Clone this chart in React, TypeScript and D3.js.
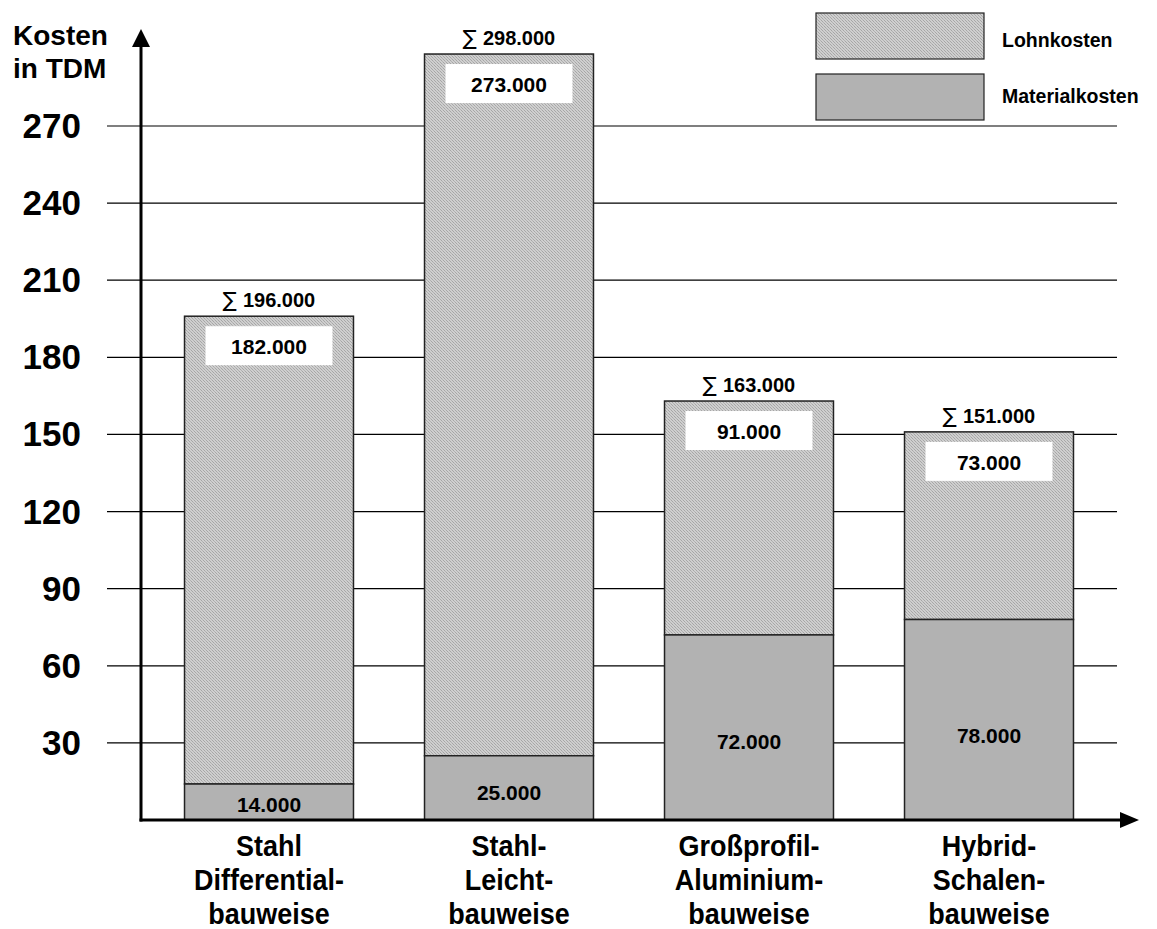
import React from "react";
import * as d3 from "d3";

// Cost comparison of four construction methods (values in TDM)
const categories: string[][] = [
  ["Stahl", "Differential-", "bauweise"],
  ["Stahl-", "Leicht-", "bauweise"],
  ["Großprofil-", "Aluminium-", "bauweise"],
  ["Hybrid-", "Schalen-", "bauweise"],
];
const materialkosten = [14, 25, 72, 78];
const lohnkosten = [182, 273, 91, 73];
const yTicks = [30, 60, 90, 120, 150, 180, 210, 240, 270];
const legendLabels = ["Lohnkosten", "Materialkosten"];

const W = 1157;
const H = 929;
const FONT = "'Liberation Sans', Arial, Helvetica, sans-serif";

const fmt = (v: number) => d3.format(".3f")(v).replace(/,/g, "");

export default function App() {
  const x = d3
    .scaleBand<number>()
    .domain(d3.range(categories.length))
    .range([149, 1109])
    .paddingInner(0.296)
    .paddingOuter(0.148);
  const y = d3.scaleLinear().domain([0, 270]).range([820, 126]);
  const bw = x.bandwidth();
  const axisX = 141;
  const axisY = y(0);

  return (
    <svg
      width={W}
      height={H}
      viewBox={`0 0 ${W} ${H}`}
      style={{ display: "block", position: "absolute", left: 0, top: 0, background: "#fff" }}
      fontFamily={FONT}
    >
      <defs>
        <pattern id="lohn" width="3" height="3" patternUnits="userSpaceOnUse">
          <rect width="3" height="3" fill="#cfcfcf" />
          <rect x="0" y="0" width="1" height="1" fill="#a6a6a6" />
          <rect x="1" y="1" width="1" height="1" fill="#b2b2b2" />
          <rect x="2" y="2" width="1" height="1" fill="#a6a6a6" />
        </pattern>
      </defs>

      {/* horizontal grid lines */}
      {yTicks.map((t) => (
        <line key={t} x1={107} x2={1117} y1={y(t)} y2={y(t)} stroke="#000" strokeWidth={1.2} />
      ))}

      {/* y tick labels */}
      {yTicks.map((t) => (
        <text
          key={"l" + t}
          x={81}
          y={y(t) + 12}
          textAnchor="end"
          fontSize={35}
          fontWeight="bold"
          fill="#000"
        >
          {t}
        </text>
      ))}

      {/* axis title */}
      <text x={13} y={45} fontSize={28} fontWeight="bold">Kosten</text>
      <text x={13} y={78} fontSize={28} fontWeight="bold">in TDM</text>

      {/* stacked bars */}
      {categories.map((_, i) => {
        const m = materialkosten[i];
        const l = lohnkosten[i];
        const total = m + l;
        const x0 = x(i)!;
        const cx = x0 + bw / 2;
        const yTop = y(total);
        const yMid = y(m);
        const segH = axisY - yMid;
        return (
          <g key={i}>
            <rect x={x0} y={yTop} width={bw} height={yMid - yTop} fill="url(#lohn)" stroke="#222" strokeWidth={1.5} />
            <rect x={x0} y={yMid} width={bw} height={segH} fill="#b2b2b2" stroke="#222" strokeWidth={1.5} />
            {/* labour cost label box */}
            <rect x={x0 + 21} y={yTop + 10} width={bw - 42} height={39} fill="#fff" />
            <text x={cx} y={yTop + 38} textAnchor="middle" fontSize={21} fontWeight="bold">
              {fmt(l)}
            </text>
            {/* material cost label */}
            <text x={cx} y={yMid + segH / 2 + segH * 0.08 + 7} textAnchor="middle" fontSize={21} fontWeight="bold">
              {fmt(m)}
            </text>
            {/* total */}
            <text x={cx} y={yTop - 9} textAnchor="middle" fontSize={20} fontWeight="bold">
              <tspan fontWeight="normal" fontFamily="'DejaVu Sans', sans-serif" fontSize={21}>∑</tspan>
              <tspan dx={6}>{fmt(total)}</tspan>
            </text>
            {/* category label */}
            <g transform={`translate(${cx},0) scale(0.93,1)`}>
              {categories[i].map((line, k) => (
                <text key={k} x={0} y={856 + k * 34} textAnchor="middle" fontSize={29} fontWeight="bold">
                  {line}
                </text>
              ))}
            </g>
          </g>
        );
      })}

      {/* axes with arrows */}
      <line x1={axisX} x2={axisX} y1={axisY + 1.5} y2={44} stroke="#000" strokeWidth={3} />
      <path d={`M${axisX},29 L${axisX - 9},47 L${axisX + 9},47 Z`} fill="#000" />
      <line x1={axisX - 1.5} x2={1122} y1={axisY} y2={axisY} stroke="#000" strokeWidth={3} />
      <path d={`M1139,${axisY} L1120,${axisY - 8} L1120,${axisY + 8} Z`} fill="#000" />

      {/* legend */}
      {legendLabels.map((lab, i) => (
        <g key={lab}>
          <rect
            x={816}
            y={13 + i * 61}
            width={168}
            height={46}
            fill={i === 0 ? "url(#lohn)" : "#b2b2b2"}
            stroke="#222"
            strokeWidth={1.2}
          />
          <text x={1002} y={47 + i * 56} fontSize={19.5} fontWeight="bold">
            {lab}
          </text>
        </g>
      ))}
    </svg>
  );
}
